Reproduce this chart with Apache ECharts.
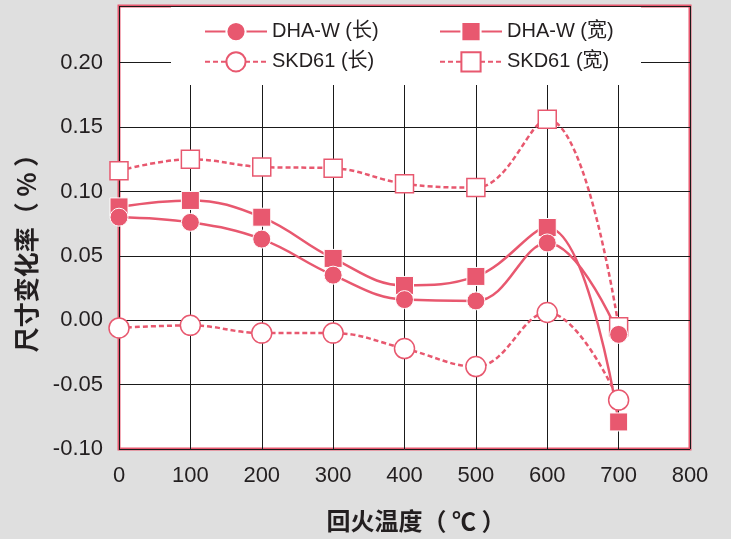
<!DOCTYPE html>
<html>
<head>
<meta charset="utf-8">
<script src="https://cdn.jsdelivr.net/npm/echarts@6/dist/echarts.min.js"></script>
<style>
  html, body { margin: 0; padding: 0; background: #dfdfdf; }
  #chart { width: 731px; height: 539px; }
</style>
</head>
<body>
<div id="chart"></div>
<script>
// Tempering temperature (°C) on the x axis
const temps = [0, 100, 200, 300, 400, 500, 600, 700];

// Dimensional change (%) per steel and direction
const dhaLong   = [0.080, 0.076, 0.063, 0.035, 0.016, 0.015, 0.060, -0.011];
const dhaWide   = [0.088, 0.093, 0.080, 0.048, 0.027, 0.034, 0.072, -0.079];
const skdLong   = [-0.006, -0.004, -0.010, -0.010, -0.022, -0.036, 0.006, -0.062];
const skdWide   = [0.116, 0.125, 0.119, 0.118, 0.106, 0.103, 0.156, -0.005];

const seriesNames = ['DHA-W (长)', 'DHA-W (宽)', 'SKD61 (长)', 'SKD61 (宽)'];

const PINK = '#e8586f';
const INK = '#231f20';
const FONT = '"Liberation Sans", Arial, "Noto Sans CJK SC", sans-serif';
const CJK = '"Noto Sans CJK SC", sans-serif';

const pairs = vals => temps.map((t, i) => [t, vals[i]]);

function makeSeries(name, vals, opts) {
  return {
    name: name,
    type: 'line',
    data: pairs(vals),
    smooth: 0.4,
    symbol: opts.symbol,
    symbolSize: opts.size,
    lineStyle: { color: PINK, width: 2.5, type: opts.dashed ? [5, 3] : 'solid' },
    itemStyle: {
      color: opts.filled ? PINK : '#ffffff',
      borderColor: opts.filled ? '#ffffff' : PINK,
      borderWidth: opts.filled ? 1 : 1.5
    },
    emphasis: { disabled: true },
    clip: false
  };
}

const chart = echarts.init(document.getElementById('chart'), null, { renderer: 'canvas' });

const legendCommon = {
  orient: 'vertical',
  top: 21,
  itemWidth: 62,
  itemHeight: 24,
  itemGap: 9,
  padding: 0,
  selectedMode: false,
  textStyle: { fontSize: 20, color: INK, fontFamily: FONT }
};

chart.setOption({
  backgroundColor: '#dfdfdf',
  animation: false,
  textStyle: { fontFamily: FONT },
  grid: {
    left: 119, right: 41, top: 6, bottom: 90,
    show: true,
    backgroundColor: '#ffffff',
    borderColor: PINK,
    borderWidth: 3
  },
  legend: [
    Object.assign({ left: 204, data: [seriesNames[0], seriesNames[2]] }, legendCommon),
    Object.assign({ left: 439, data: [seriesNames[1], seriesNames[3]] }, legendCommon)
  ],
  graphic: [{
    type: 'rect',
    z: 1,
    shape: { x: 171, y: 7, width: 470, height: 78 },
    style: { fill: '#ffffff' },
    silent: true
  }],
  xAxis: {
    type: 'value',
    min: 0, max: 800, interval: 100,
    name: '回火温度（ ℃ ）',
    nameLocation: 'middle',
    nameGap: 60,
    nameTextStyle: { fontSize: 24, color: INK, fontFamily: CJK, fontWeight: 'bold', padding: [0, 0, 0, 23] },
    axisLine: { show: false },
    axisTick: { show: false },
    axisLabel: { fontSize: 22, color: INK, margin: 16 },
    splitLine: { show: true, lineStyle: { color: '#1a1a1a', width: 1 } }
  },
  yAxis: {
    type: 'value',
    min: -0.1, max: 0.244, interval: 0.05,
    name: '尺寸变化率（ % ）',
    nameLocation: 'middle',
    nameRotate: 90,
    nameGap: 80,
    nameTextStyle: { fontSize: 25, color: INK, fontFamily: CJK, fontWeight: 'bold', padding: [0, 39, 0, 0] },
    axisLine: { show: false },
    axisTick: { show: false },
    axisLabel: {
      fontSize: 22, color: INK, margin: 16,
      formatter: v => (v > 0.21 ? '' : v.toFixed(2))
    },
    splitLine: { show: true, lineStyle: { color: '#1a1a1a', width: 1 } }
  },
  series: [
    makeSeries(seriesNames[3], skdWide, { symbol: 'rect', size: 18, filled: false, dashed: true }),
    makeSeries(seriesNames[2], skdLong, { symbol: 'circle', size: 20, filled: false, dashed: true }),
    makeSeries(seriesNames[1], dhaWide, { symbol: 'rect', size: 18, filled: true, dashed: false }),
    makeSeries(seriesNames[0], dhaLong, { symbol: 'circle', size: 18, filled: true, dashed: false })
  ]
});
</script>
</body>
</html>
